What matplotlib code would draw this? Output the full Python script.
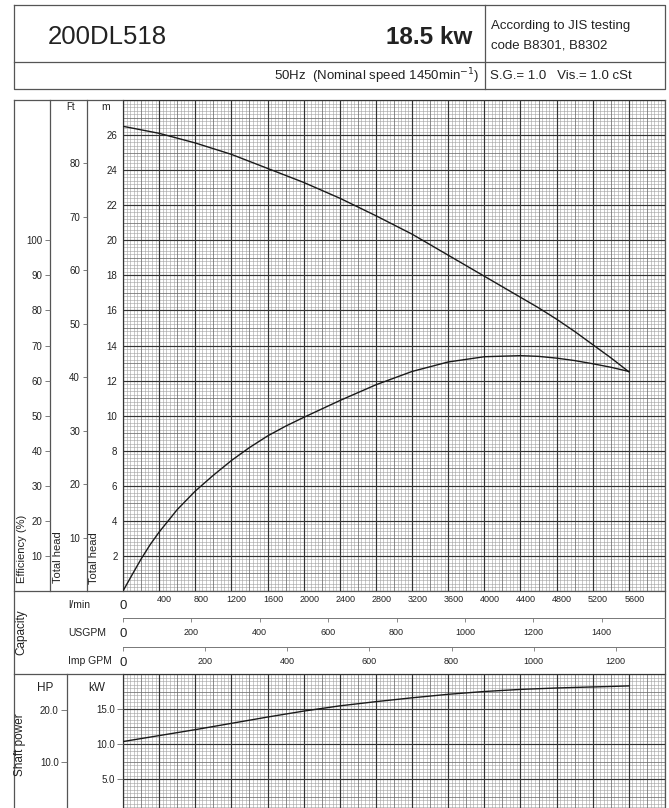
import matplotlib
matplotlib.use('Agg')
import matplotlib.pyplot as plt
import numpy as np

plt.rcParams['font.family'] = ['Liberation Sans', 'DejaVu Sans']

# curves, capacity in l/min
flow = [0, 400, 800, 1200, 1600, 2000, 2400, 2800, 3200, 3600, 4000, 4400, 4600, 4800, 5000, 5200, 5400, 5600]
head_m = [26.5, 26.1, 25.55, 24.9, 24.1, 23.3, 22.4, 21.4, 20.35, 19.15, 17.95, 16.75, 16.15,
          15.5, 14.8, 14.05, 13.3, 12.5]
power_kw = [10.35, 11.2, 12.05, 12.95, 13.85, 14.7, 15.45, 16.05, 16.6, 17.1, 17.5, 17.8, 17.9,
            18.0, 18.08, 18.15, 18.22, 18.3]
eff_flow = [0, 100, 200, 300, 400, 600, 800, 1000, 1200, 1400, 1600, 1800, 2000, 2400, 2800,
            3200, 3600, 4000, 4400, 4600, 4800, 5000, 5200, 5400, 5600]
eff_pct = [0, 4.6, 9.1, 13.2, 16.8, 23.2, 28.5, 33.0, 37.2, 40.9, 44.2, 47.0, 49.5, 54.3, 58.8,
           62.6, 65.3, 66.8, 67.1, 66.9, 66.4, 65.7, 64.8, 63.8, 62.6]

# scales
lmin_ticks = [400, 800, 1200, 1600, 2000, 2400, 2800, 3200, 3600, 4000, 4400, 4800, 5200, 5600]
usgpm_ticks = [200, 400, 600, 800, 1000, 1200, 1400]
impgpm_ticks = [200, 400, 600, 800, 1000, 1200]
eff_ticks = [10, 20, 30, 40, 50, 60, 70, 80, 90, 100]
ft_ticks = [10, 20, 30, 40, 50, 60, 70, 80]
m_ticks = [2, 4, 6, 8, 10, 12, 14, 16, 18, 20, 22, 24, 26]
kw_ticks = [5, 10, 15]
hp_ticks = [10, 20]

QMAX = 6000
HMAX = 28
PMAX = 20
US_GAL = 3.78541
IMP_GAL = 4.54609
FT = 3.28084
HP = 0.7457

W, H = 669, 808
fig = plt.figure(figsize=(W / 100, H / 100), dpi=100)
fig.patch.set_facecolor('white')

FRAME = '#555555'
TXT = '#222222'


def box(l, t, r, b):
    return [l / W, 1 - b / H, (r - l) / W, (b - t) / H]


# background layer for frame lines and labels (pixel coords)
bg = fig.add_axes([0, 0, 1, 1])
bg.set_xlim(0, W)
bg.set_ylim(H, 0)
bg.axis('off')

# header box
bg.plot([14, 665, 665, 14, 14], [5, 5, 89, 89, 5], color=FRAME, lw=0.9)
bg.plot([14, 665], [62, 62], color=FRAME, lw=0.9)
bg.plot([485, 485], [5, 89], color=FRAME, lw=0.9)
bg.text(48, 37, '200DL518', fontsize=18.5, color=TXT, ha='left', va='center')
bg.text(472, 38, '18.5 kw', fontsize=17.5, fontweight='bold', color=TXT, ha='right', va='center')
bg.text(491, 26, 'According to JIS testing', fontsize=9.5, color=TXT, ha='left', va='center')
bg.text(491, 45, 'code B8301, B8302', fontsize=9.5, color=TXT, ha='left', va='center')
bg.text(479, 76, '50Hz  (Nominal speed 1450min$^{-1}$)', fontsize=9.5, color=TXT, ha='right', va='center')
bg.text(490, 76, 'S.G.= 1.0   Vis.= 1.0 cSt', fontsize=9.5, color=TXT, ha='left', va='center')

# chart frame
bg.plot([14, 665], [100, 100], color=FRAME, lw=0.9)
bg.plot([14, 665], [591, 591], color=FRAME, lw=0.9)
bg.plot([14, 665], [674, 674], color=FRAME, lw=0.9)
bg.plot([14, 14], [100, 808], color=FRAME, lw=0.9)
bg.plot([665, 665], [100, 808], color=FRAME, lw=0.9)
for x in (50, 87, 123):
    bg.plot([x, x], [100, 591], color=FRAME, lw=0.9)
for x in (67, 123):
    bg.plot([x, x], [674, 808], color=FRAME, lw=0.9)

bg.text(71, 107, 'Ft', fontsize=7, color=TXT, ha='center', va='center')
bg.text(106, 107, 'm', fontsize=7.5, color=TXT, ha='center', va='center')
bg.text(22, 549, 'Efficiency (%)', fontsize=8, color=TXT, rotation=90, ha='center', va='center')
bg.text(58, 557, 'Total head', fontsize=8, color=TXT, rotation=90, ha='center', va='center')
bg.text(94, 558, 'Total head', fontsize=8, color=TXT, rotation=90, ha='center', va='center')
bg.text(68, 605, 'l/min', fontsize=7.5, color=TXT, ha='left', va='center')
bg.text(68, 633, 'USGPM', fontsize=7.5, color=TXT, ha='left', va='center')
bg.text(68, 661, 'Imp GPM', fontsize=7.5, color=TXT, ha='left', va='center')
bg.text(21, 632, 'Capacity', fontsize=8.5, color=TXT, rotation=90, ha='center', va='center')
bg.text(45, 688, 'HP', fontsize=8.5, color=TXT, ha='center', va='center')
bg.text(97, 688, 'kW', fontsize=8.5, color=TXT, ha='center', va='center')
bg.text(20, 745, 'Shaft power', fontsize=8.5, color=TXT, rotation=90, ha='center', va='center')


def paper(ax, nx, xstep, ny, ystep):
    # graph paper: 10 small squares per heavy square
    levels = [('#a0a0a0', 0.4), ('#6e6e6e', 0.55), ('#333333', 0.85)]
    ix = np.arange(nx + 1)
    iy = np.arange(ny + 1)
    for k, (c, lw) in enumerate(levels):
        if k == 0:
            sx, sy = ix[ix % 5 != 0], iy[iy % 5 != 0]
        elif k == 1:
            sx, sy = ix[(ix % 5 == 0) & (ix % 10 != 0)], iy[(iy % 5 == 0) & (iy % 10 != 0)]
        else:
            sx, sy = ix[ix % 10 == 0], iy[iy % 10 == 0]
        ax.vlines(sx * xstep, 0, ny * ystep, colors=c, lw=lw, zorder=1)
        ax.hlines(sy * ystep, 0, nx * xstep, colors=c, lw=lw, zorder=1)


def bare(ax):
    for s in ax.spines.values():
        s.set_visible(False)
    ax.set_facecolor('none')


# main chart: head (m) and efficiency (efficiency 100 % = 20 m)
ax = fig.add_axes(box(123, 100, 665, 591))
bare(ax)
ax.set_xlim(0, QMAX)
ax.set_ylim(0, HMAX)
paper(ax, 150, 40, 140, 0.2)
ax.plot(flow, head_m, color='#1a1a1a', lw=1.0, zorder=3)
ax.plot(eff_flow, np.array(eff_pct) / 5.0, color='#1a1a1a', lw=1.0, zorder=3)
ax.set_xticks([])
ax.set_yticks(m_ticks)
ax.tick_params(axis='y', length=0, pad=4, labelsize=7, labelcolor=TXT)

ax_ft = fig.add_axes(box(87, 100, 123, 591))
bare(ax_ft)
ax_ft.set_ylim(0, HMAX * FT)
ax_ft.set_xticks([])
ax_ft.set_yticks(ft_ticks)
ax_ft.tick_params(axis='y', direction='out', length=3, width=0.6, color='#666666', pad=2,
                  labelsize=7, labelcolor=TXT)

ax_eff = fig.add_axes(box(50, 100, 87, 591))
bare(ax_eff)
ax_eff.set_ylim(0, HMAX * 5)
ax_eff.set_xticks([])
ax_eff.set_yticks(eff_ticks)
ax_eff.tick_params(axis='y', direction='out', length=3.5, width=0.6, color='#666666', pad=2,
                   labelsize=7, labelcolor=TXT)

# capacity scales
row_l = fig.add_axes(box(123, 591, 665, 618))
bare(row_l)
row_l.set_xlim(0, QMAX)
row_l.set_ylim(0, 1)
row_l.set_xticks([])
row_l.set_yticks([])
for q in lmin_ticks:
    row_l.text(q + 60, 0.7, str(q), fontsize=6.5, color=TXT, ha='center', va='center')
row_l.text(0, 0.45, '0', fontsize=9.5, color=TXT, ha='center', va='center')

for top, qmax, ticks in ((618, QMAX / US_GAL, usgpm_ticks),
                         (647, QMAX / IMP_GAL, impgpm_ticks)):
    row = fig.add_axes(box(123, top, 665, top + 29))
    bare(row)
    row.spines['top'].set_visible(True)
    row.spines['top'].set_color('#777777')
    row.spines['top'].set_linewidth(0.7)
    row.set_xlim(0, qmax)
    row.set_ylim(0, 1)
    row.xaxis.tick_top()
    row.set_xticks([0] + ticks)
    row.tick_params(axis='x', direction='in', length=3, width=0.6, color='#777777', labeltop=False)
    row.set_yticks([])
    for v in ticks:
        row.text(v, 0.5, str(v), fontsize=6.5, color=TXT, ha='center', va='center')
    row.text(0, 0.45, '0', fontsize=9.5, color=TXT, ha='center', va='center')

# shaft power
axp = fig.add_axes(box(123, 674, 665, 814))
bare(axp)
axp.set_xlim(0, QMAX)
axp.set_ylim(0, PMAX)
paper(axp, 150, 40, 40, 0.5)
axp.plot(flow, power_kw, color='#1a1a1a', lw=1.0, zorder=3)
axp.set_xticks([])
axp.set_yticks(kw_ticks)
axp.set_yticklabels(['%.1f' % v for v in kw_ticks])
axp.tick_params(axis='y', direction='out', length=4, width=0.6, color='#666666', pad=2,
                labelsize=7, labelcolor=TXT)

ax_hp = fig.add_axes(box(67, 674, 123, 814))
bare(ax_hp)
ax_hp.set_ylim(0, PMAX / HP)
ax_hp.set_xticks([])
ax_hp.set_yticks(hp_ticks)
ax_hp.set_yticklabels(['%.1f' % v for v in hp_ticks])
ax_hp.tick_params(axis='y', direction='out', length=4, width=0.6, color='#666666', pad=2,
                  labelsize=7, labelcolor=TXT)

fig.savefig('out.png', dpi=100, facecolor='white')
